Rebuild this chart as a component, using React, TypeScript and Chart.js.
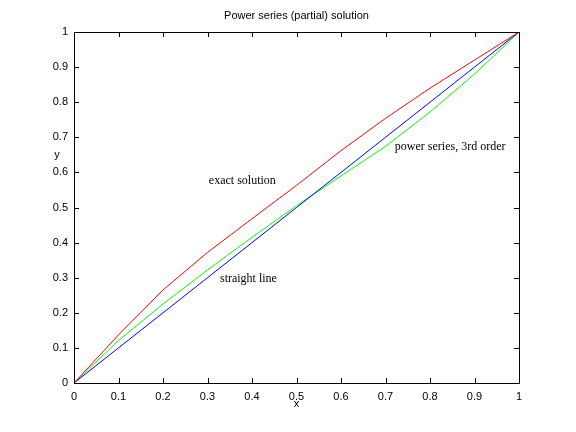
import React, { useEffect, useRef } from "react";
import { Chart, registerables } from "chart.js";

Chart.register(...registerables);

const xValues = [0, 0.1, 0.2, 0.3, 0.4, 0.5, 0.6, 0.7, 0.8, 0.9, 1];
const exactSolution = [0, 0.137, 0.265, 0.372, 0.468, 0.563, 0.662, 0.754, 0.84, 0.92, 1];
const powerSeries3 = [0, 0.121, 0.225, 0.322, 0.415, 0.505, 0.59, 0.674, 0.772, 0.88, 1];
const straightLine = [0, 0.1, 0.2, 0.3, 0.4, 0.5, 0.6, 0.7, 0.8, 0.9, 1];

const tickValues = [0, 0.1, 0.2, 0.3, 0.4, 0.5, 0.6, 0.7, 0.8, 0.9, 1];

const titleText = "Power series (partial) solution";
const xLabel = "x";
const yLabel = "y";

const noteTexts = ["exact solution", "straight line", "power series, 3rd order"];
const noteX = [0.303, 0.328, 0.721];
const noteY = [0.575, 0.296, 0.672];

const fmt = (v: number) => String(Math.round(v * 10) / 10);

const decorPlugin = {
  id: "decor",
  afterDraw(chart: any) {
    const { ctx, chartArea } = chart;
    const xs = chart.scales.x;
    const ys = chart.scales.y;
    const { left, right, top, bottom } = chartArea;
    ctx.save();
    ctx.strokeStyle = "#000";
    ctx.lineWidth = 1;
    ctx.beginPath();
    ctx.rect(left + 0.5, top + 0.5, right - left, bottom - top);
    ctx.stroke();
    const tl = 5;
    ctx.beginPath();
    tickValues.forEach((t) => {
      const px = Math.round(xs.getPixelForValue(t)) + 0.5;
      ctx.moveTo(px, bottom);
      ctx.lineTo(px, bottom - tl);
      ctx.moveTo(px, top);
      ctx.lineTo(px, top + tl);
      const py = Math.round(ys.getPixelForValue(t)) + 0.5;
      ctx.moveTo(left, py);
      ctx.lineTo(left + tl, py);
      ctx.moveTo(right, py);
      ctx.lineTo(right - tl, py);
    });
    ctx.stroke();

    ctx.fillStyle = "#000";
    ctx.font = "11px 'Liberation Sans', Arial, sans-serif";
    ctx.textAlign = "center";
    ctx.textBaseline = "middle";
    ctx.fillText(titleText, (left + right) / 2, 16);
    ctx.fillText(xLabel, (left + right) / 2, 404);
    ctx.fillText(yLabel, 57, 155);

    ctx.font = "12px 'Liberation Serif', 'Times New Roman', serif";
    ctx.textAlign = "left";
    noteTexts.forEach((t, i) => {
      ctx.fillText(t, xs.getPixelForValue(noteX[i]), ys.getPixelForValue(noteY[i]));
    });
    ctx.restore();
  },
};

export default function App() {
  const ref = useRef<HTMLCanvasElement | null>(null);
  useEffect(() => {
    if (!ref.current) return;
    const mk = (ys: number[], color: string) => ({
      data: xValues.map((x, i) => ({ x, y: ys[i] })),
      borderColor: color,
      borderWidth: 1,
      pointRadius: 0,
      fill: false,
      tension: 0,
    });
    const chart = new Chart(ref.current, {
      type: "line",
      data: {
        datasets: [
          mk(exactSolution, "#ff0000"),
          mk(straightLine, "#0000ff"),
          mk(powerSeries3, "#00ff00"),
        ],
      },
      options: {
        animation: false,
        responsive: false,
        maintainAspectRatio: false,
        layout: { padding: { left: 0, right: 57, top: 32, bottom: 0 } },
        plugins: { legend: { display: false }, tooltip: { enabled: false }, title: { display: false } },
        scales: {
          x: {
            type: "linear",
            min: 0,
            max: 1,
            afterFit: (s: any) => { s.height = 49; },
            afterBuildTicks: (s: any) => { s.ticks = tickValues.map((v) => ({ value: v })); },
            grid: { display: false, drawTicks: false },
            border: { display: false },
            ticks: {
              color: "#000",
              padding: 7,
              maxRotation: 0,
              autoSkip: false,
              font: { family: "'Liberation Sans', Arial, sans-serif", size: 11 },
              callback: (v: any) => fmt(Number(v)),
            },
          },
          y: {
            type: "linear",
            min: 0,
            max: 1,
            afterFit: (s: any) => { s.width = 74; },
            afterBuildTicks: (s: any) => { s.ticks = tickValues.map((v) => ({ value: v })); },
            grid: { display: false, drawTicks: false },
            border: { display: false },
            ticks: {
              color: "#000",
              padding: 6,
              autoSkip: false,
              font: { family: "'Liberation Sans', Arial, sans-serif", size: 11 },
              callback: (v: any) => fmt(Number(v)),
            },
          },
        },
      },
      plugins: [decorPlugin],
    });
    return () => chart.destroy();
  }, []);
  return (
    <div style={{ position: "fixed", left: 0, top: 0, width: 576, height: 432, background: "#fff" }}>
      <canvas ref={ref} width={576} height={432} style={{ width: 576, height: 432 }} />
    </div>
  );
}
